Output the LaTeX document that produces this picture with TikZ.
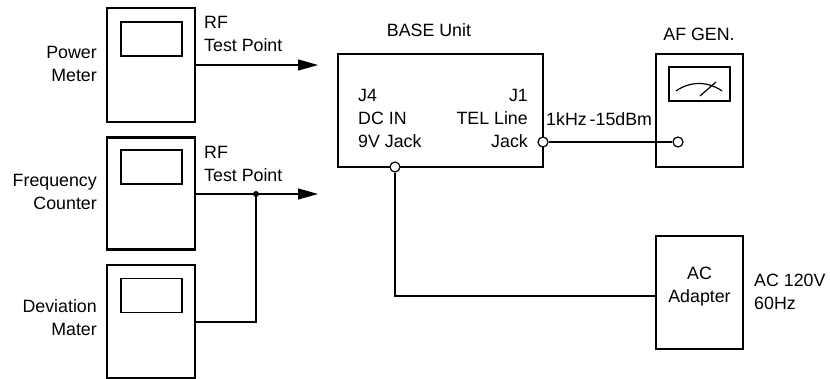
\documentclass[tikz,border=0pt]{standalone}
\usepackage{fontspec}
\setmainfont{Liberation Sans}
\usetikzlibrary{arrows.meta,calc}
\begin{document}
\begin{tikzpicture}[x=1pt,y=-1pt,
  every node/.style={font=\fontsize{17.8pt}{23pt}\selectfont},
  box/.style={draw, line width=2.6pt, inner sep=0pt},
  screen/.style={draw, line width=1.2pt, inner sep=0pt, minimum width=61pt, minimum height=34pt},
  wire/.style={line width=1.2pt},
  jack/.style={circle, draw, line width=1.2pt, fill=white, minimum size=10pt, inner sep=0pt},
  lbl/.style={inner sep=0pt, align=left},
  arr/.style={wire, -{Triangle[length=20pt,width=11pt]}}
]
\useasboundingbox (0,0) rectangle (830,379);
% instruments
\node[box, minimum width=88pt, minimum height=114pt] (pm) at (151,65) {};
\node[screen] (pms) at (151.5,39) {};
\node[box, minimum width=88pt, minimum height=112pt] (fc) at (151,193.5) {};
\node[screen] (fcs) at (151.5,167) {};
\node[box, minimum width=88pt, minimum height=113pt] (dm) at (151,321.5) {};
\node[screen] (dms) at (151.5,295.5) {};
\node[lbl, anchor=east, align=right] (pml) at (97,64) {Power\\Meter};
\node[lbl, anchor=east, align=right] (fcl) at (97,192) {Frequency\\Counter};
\node[lbl, anchor=east, align=right] (dml) at (97,317.5) {Deviation\\Mater};
% RF labels
\node[lbl, anchor=west] (rf1) at (204,34) {RF\\Test Point};
\node[lbl, anchor=west] (rf2) at (204,163.5) {RF\\Test Point};
% arrows
\coordinate (a1) at (318,65);
\coordinate (a2) at (318,194);
\coordinate (j) at (256,194);
\draw[arr] (pm.east |- a1) -- (a1);
\draw[arr] (fc.east |- a2) -- (a2);
\draw[wire] (dm.east |- 0,322) -| (j);
\fill (j) circle (3pt);
% base unit
\node[box, minimum width=205pt, minimum height=113pt] (base) at (440.5,110.5) {};
\node[lbl] (basel) at (429,30) {BASE Unit};
\node[lbl, anchor=west] (j4) at (358,118.5) {J4\\DC IN\\9V Jack};
\node[lbl, anchor=east, align=right] (j1) at (528,118.5) {J1\\TEL Line\\Jack};
% AF gen
\node[box, minimum width=87pt, minimum height=113pt] (af) at (699.5,110.5) {};
\node[lbl] (afl) at (699,34) {AF GEN.};
\node[screen, minimum width=61pt, minimum height=34pt] (meter) at (699.5,84) {};
\draw[wire] (676,91) .. controls (690,81) and (708,81) .. (722,91);
\draw[wire] (700,96) -- (716,82);
% AC adapter
\node[box, minimum width=87pt, minimum height=113pt] (ac) at (699.5,292.5) {};
\node[lbl, align=center] (acl) at (699.5,287) {AC\\Adapter};
\node[lbl, anchor=west] (acv) at (754,292) {AC 120V\\60Hz};
% jacks and wires
\node[jack] (tel) at (543,142) {};
\node[jack] (afin) at (678,142) {};
\node[jack] (dc) at (395,167) {};
\draw[wire] (tel.east) -- (afin.west);
\coordinate (acin) at (656,296);
\draw[wire] (dc.south) |- (acin);
\node[lbl, anchor=west] (sig) at (546,119) {1kHz\,-15dBm};
\end{tikzpicture}
\end{document}
